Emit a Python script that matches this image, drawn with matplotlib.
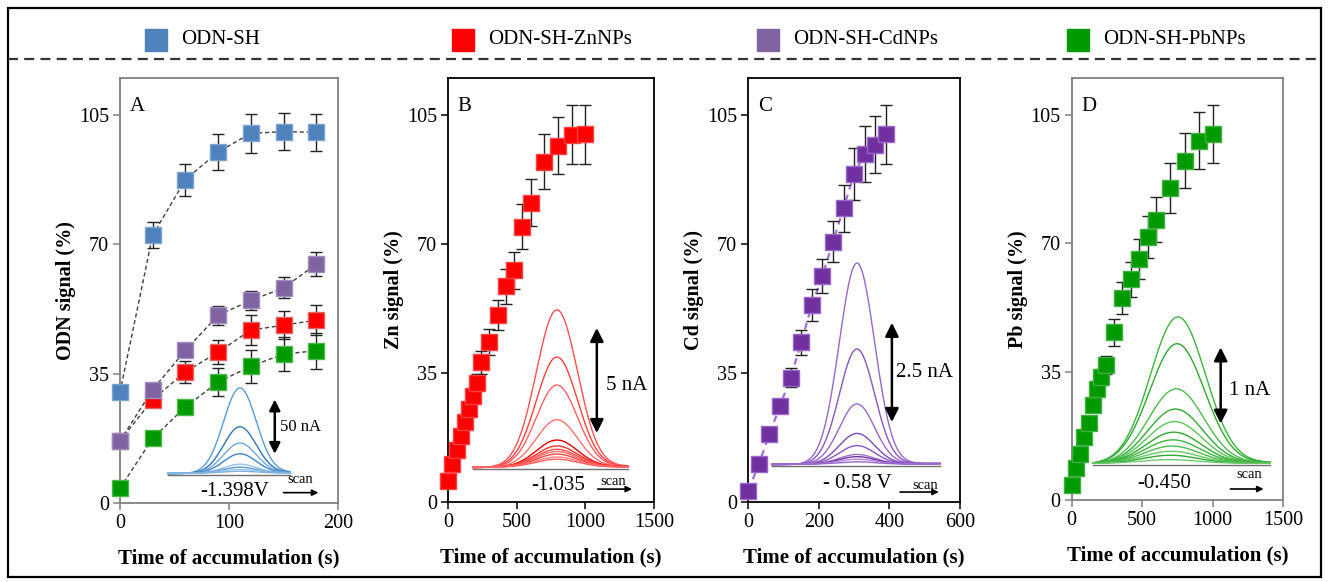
import numpy as np
import matplotlib
matplotlib.use("Agg")
import matplotlib.pyplot as plt
from matplotlib.patches import Rectangle
from matplotlib.lines import Line2D

plt.rcParams['font.family'] = ['Liberation Serif', 'DejaVu Serif']

# ---------------- data ----------------
legend_labels = ["ODN-SH", "ODN-SH-ZnNPs", "ODN-SH-CdNPs", "ODN-SH-PbNPs"]

# Panel A: ODN signal vs accumulation time
t_A = [0, 30, 60, 90, 120, 150, 180]
odn_sh = [30.0, 72.5, 87.5, 95.0, 100.0, 100.5, 100.3]
odn_sh_err = [0, 3.5, 4.3, 4.8, 5.2, 5.0, 5.0]
odn_zn = [16.8, 28.0, 35.5, 40.8, 46.8, 48.1, 49.5]
odn_zn_err = [0, 1.2, 2.9, 3.3, 4.0, 3.8, 4.1]
odn_cd = [16.8, 30.7, 41.3, 50.8, 54.8, 58.2, 64.6]
odn_cd_err = [0, 1.0, 1.5, 2.6, 2.5, 2.85, 3.2]
odn_pb = [4.0, 17.5, 26.0, 32.7, 37.0, 40.3, 41.2]
odn_pb_err = [0, 0.5, 1.9, 3.7, 4.4, 4.5, 4.9]

# Panel B: Zn signal
t_B = [0, 30, 60, 90, 120, 150, 180, 210, 240, 300, 360, 420, 480, 540, 600,
       700, 800, 900, 1000]
zn = [5.8, 10.2, 14.1, 18.0, 21.8, 25.1, 28.8, 32.4, 37.9, 43.4, 50.8, 58.5,
      62.9, 74.7, 81.2, 92.3, 96.6, 99.6, 99.8]
zn_err = [0.5, 1.0, 1.0, 1.2, 1.5, 1.8, 2.0, 2.3, 3.1, 3.4, 4.1, 4.7, 5.0,
          6.1, 6.4, 7.5, 7.7, 8.0, 8.0]

# Panel C: Cd signal
t_C = [0, 30, 60, 90, 120, 150, 180, 210, 240, 270, 300, 330, 360, 390]
cd = [3.1, 10.3, 18.4, 26.1, 33.7, 43.3, 53.4, 61.3, 70.6, 79.7, 89.0, 94.4,
      96.9, 99.8]
cd_err = [0.5, 0.8, 1.0, 1.5, 2.6, 3.4, 4.3, 4.7, 5.6, 6.4, 7.1, 7.5, 7.8, 8.0]

# Panel D: Pb signal
t_D = [0, 30, 60, 90, 120, 150, 180, 210, 240, 300, 360, 420, 480, 540, 600,
       700, 800, 900, 1000]
pb = [4.1, 8.6, 12.4, 17.2, 21.1, 25.8, 30.3, 33.5, 36.8, 45.7, 55.0, 60.1,
      65.6, 71.6, 76.4, 85.0, 92.5, 97.9, 99.7]
pb_err = [0.5, 0.8, 1.0, 1.2, 1.5, 1.8, 2.0, 2.2, 2.5, 3.6, 4.4, 4.7, 5.4,
          5.7, 6.1, 6.9, 7.4, 7.8, 7.9]

# Inset voltammogram peak heights (in panel y units above the baseline)
peaks_A = [23.0, 12.5, 8.1, 5.2, 2.4, 1.6, 1.0, 0.5]
peaks_B = [42.6, 29.8, 22.2, 12.8, 7.3, 5.7, 4.8, 4.2, 3.5, 2.7, 2.1]
peaks_C = [54.5, 31.2, 16.3, 8.3, 5.0, 2.6, 2.0, 1.3, 0.6]
peaks_D = [39.9, 32.6, 20.3, 14.8, 11.4, 8.5, 6.4, 4.7, 3.3, 2.2, 1.0]

x_ticks = {"A": [0, 100, 200], "B": [0, 500, 1000, 1500],
           "C": [0, 200, 400, 600], "D": [0, 500, 1000, 1500]}
y_ticks = [0, 35, 70, 105]

# ---------------- colours ----------------
c_blue = "#4F81BD"
c_red = "#FF0000"
c_purA = "#8064A2"
c_purC = "#7030A0"
c_green = "#009A00"

W, H = 1329, 582
fig = plt.figure(figsize=(W / 100, H / 100), dpi=100)


def fx(px):
    return px / W


def fy(py):
    return (H - py) / H


def make_axes(l, r, t, b, spine_color):
    ax = fig.add_axes([fx(l), fy(b), fx(r - l), (b - t) / H])
    for s in ax.spines.values():
        s.set_color(spine_color)
        s.set_linewidth(1.3)
    ax.tick_params(direction="out", length=5, width=1.1, color=spine_color,
                   labelsize=14.5, pad=3)
    ax.set_ylim(0, 115)
    ax.set_yticks(y_ticks)
    return ax


axA = make_axes(120, 338, 78, 503, "#808080")
axB = make_axes(448.3, 654, 78, 502, "black")
axC = make_axes(748.3, 960, 78, 502, "black")
axD = make_axes(1071.7, 1283.3, 78, 500, "#808080")

axA.set_xlim(0, 200)
axB.set_xlim(0, 1500)
axC.set_xlim(0, 600)
axD.set_xlim(0, 1500)
for ax, key in zip([axA, axB, axC, axD], "ABCD"):
    ax.set_xticks(x_ticks[key])
    ax.text(0.045, 0.955, key, transform=ax.transAxes, fontsize=15,
            va="top", ha="left")
    ax.set_xlabel("Time of accumulation (s)", fontsize=15, fontweight="bold",
                  labelpad=11)

axA.set_ylabel("ODN signal (%)", fontsize=14.5, fontweight="bold", labelpad=2)
axB.set_ylabel("Zn signal (%)", fontsize=14.5, fontweight="bold", labelpad=2)
axC.set_ylabel("Cd signal (%)", fontsize=14.5, fontweight="bold", labelpad=2)
axD.set_ylabel("Pb signal (%)", fontsize=14.5, fontweight="bold", labelpad=2)

err_kw = dict(ecolor="#222222", elinewidth=1.0, capsize=4.5, capthick=1.0)


def series(ax, t, v, e, color, edge, ms, line=None, z=3):
    if line is not None:
        ax.plot(t, v, **line, zorder=z - 1, clip_on=False)
    ax.errorbar(t, v, yerr=e, fmt="none", zorder=z, clip_on=False, **err_kw)
    ax.plot(t, v, "s", ms=ms, mfc=color, mec=edge, mew=1.0, zorder=z + 0.5,
            clip_on=False)


dash_A = dict(color="#404040", lw=1.0, ls=(0, (3, 2)))
series(axA, t_A, odn_sh, odn_sh_err, c_blue, "#7FA3D0", 12, dash_A, z=3)
series(axA, t_A, odn_zn, odn_zn_err, c_red, "#E06666", 12, dash_A, z=4)
series(axA, t_A, odn_pb, odn_pb_err, c_green, "#4CB84C", 12, dash_A, z=5)
series(axA, t_A, odn_cd, odn_cd_err, c_purA, "#A08CC0", 12, dash_A, z=6)

series(axB, t_B, zn, zn_err, c_red, "#FF4040", 11)
series(axC, t_C, cd, cd_err, c_purC, "#9966CC", 11,
       dict(color="#A070D8", lw=1.6, ls=(0, (3, 2.5))))
series(axD, t_D, pb, pb_err, c_green, "#40B040", 11)


# ---------------- inset voltammograms ----------------
def peak_profile(x, center, width, height):
    return height * np.exp(-0.5 * ((x - center) / width) ** 2)


def draw_peaks(ax, heights, x0, x1, center, width, base, colors, shift=0.0):
    x = np.linspace(x0, x1, 300)
    n = len(heights)
    for i, h in enumerate(heights):
        c = colors[i % len(colors)]
        cen = center - shift * (i / max(n - 1, 1))
        tilt = (x - x0) / (x1 - x0) * 0.4 - 0.2
        ax.plot(x, base + tilt * (1 - i / n) + peak_profile(x, cen, width, h),
                color=c, lw=1.0, zorder=2)
    ax.plot(x, base - 0.5 + 0.0 * x, color="#707070", lw=1.0, zorder=1.9)


draw_peaks(axA, peaks_A, 44, 156, 110, 15, 8.1,
           ["#5B9BD5", "#2E75B6", "#6FA8DC", "#3D85C6", "#9DC3E6", "#5B9BD5",
            "#9DC3E6", "#7FB2E0"])
draw_peaks(axB, peaks_B, 180, 1309, 792, 150, 9.5,
           ["#FF5050", "#FF4040", "#FF6060", "#FF7070", "#E00000", "#FF3030",
            "#FF5050", "#FF7070", "#FF4040", "#FF8080", "#FF6060"])
draw_peaks(axC, peaks_C, 67, 543, 308, 50, 10.3,
           ["#9A66CC", "#8A55C0", "#9A66CC", "#7F4AB8", "#8A55C0", "#A070D0",
            "#7030A0", "#B08AD8", "#9A66CC"])
draw_peaks(axD, peaks_D, 151, 1406, 753, 195, 10.0,
           ["#3CB43C", "#2FA82F", "#4CBB4C", "#33AA33", "#5CC45C", "#2FA82F",
            "#3CB43C", "#4CBB4C", "#66CC66", "#33AA33", "#70C870"], shift=60)


def scale_arrow(ax, x, y0, y1, label, lx, ly, fs, ms):
    ax.annotate("", xy=(x, y1), xytext=(x, y0),
                arrowprops=dict(arrowstyle="<|-|>", color="black", lw=1.8,
                                mutation_scale=ms, shrinkA=0, shrinkB=0))
    ax.text(lx, ly, label, fontsize=fs, ha="center", va="center")


def scan_label(ax, potential, px, py, sx, sy, ax0, ax1, ay, fs=15):
    ax.text(px, py, potential, fontsize=fs, ha="center", va="center")
    ax.text(sx, sy, "scan", fontsize=10.5, ha="center", va="center")
    ax.annotate("", xy=(ax1, ay), xytext=(ax0, ay), annotation_clip=False,
                arrowprops=dict(arrowstyle="-|>", color="black", lw=1.2,
                                mutation_scale=9, shrinkA=0, shrinkB=0))


scale_arrow(axA, 142, 13.3, 28.0, "50 nA", 166, 20.6, 12, 16)
scan_label(axA, "-1.398V", 105, 3.2, 165, 6.4, 150, 182, 2.8)

scale_arrow(axB, 1083, 18.7, 47.2, "5 nA", 1300, 31.7, 15, 20)
scan_label(axB, "-1.035", 800, 4.6, 1200, 5.6, 1090, 1340, 3.5)

scale_arrow(axC, 407, 21.7, 48.6, "2.5 nA", 498, 35.0, 15, 20)
scan_label(axC, "- 0.58 V", 308, 5.1, 500, 4.5, 430, 540, 2.7)

scale_arrow(axD, 1056, 20.8, 41.6, "1 nA", 1258, 29.8, 15, 20)
scan_label(axD, "-0.450", 655, 4.6, 1255, 7.0, 1125, 1360, 3.0)

# ---------------- legend band ----------------
legend_colors = [c_blue, c_red, c_purA, c_green]
legend_x = [156, 463, 768, 1078]
for lab, col, x in zip(legend_labels, legend_colors, legend_x):
    fig.add_artist(Line2D([fx(x)], [fy(40)], marker="s", ms=16.5, mfc=col,
                          mec=col, ls="none"))
    fig.text(fx(x + 25), fy(40), lab, fontsize=15, va="center", ha="left")

fig.add_artist(Line2D([fx(8), fx(1321)], [fy(59), fy(59)], color="#333333",
                      lw=1.6, ls=(0, (4.5, 2.8))))
fig.add_artist(Rectangle((fx(8), fy(577)), fx(1313), 569 / H, fill=False,
                         ec="black", lw=1.6))

fig.savefig("out.png", dpi=100)
